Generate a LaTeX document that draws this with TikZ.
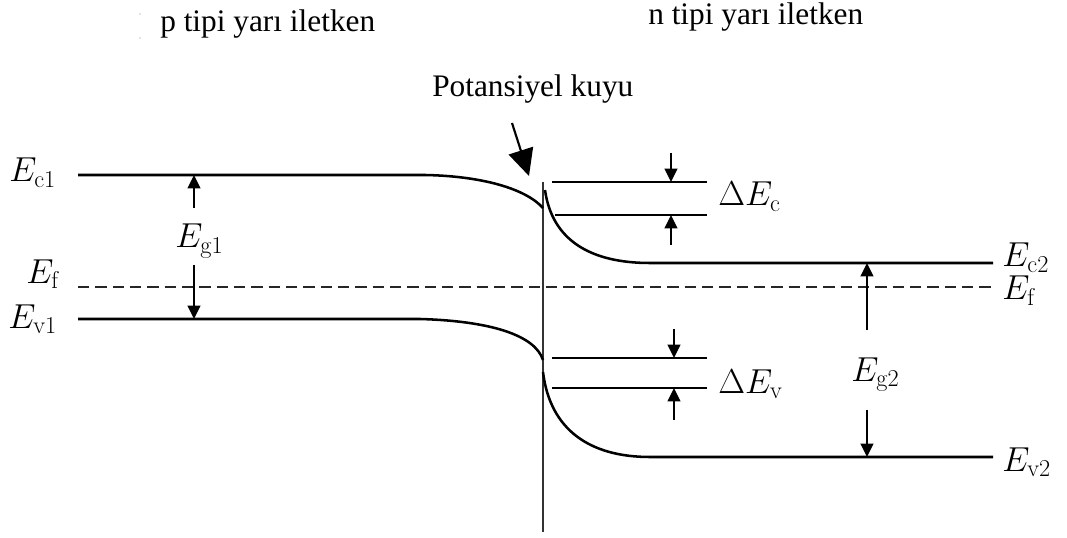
\RequirePackage{fix-cm}
\documentclass[tikz,border=0pt]{standalone}
\usepackage[no-math]{fontspec}
\setmainfont{Liberation Serif}
\usetikzlibrary{arrows.meta}
\begin{document}
\begin{tikzpicture}[x=0.75pt,y=-0.75pt,
  band/.style={line width=1.9pt},
  fermi/.style={line width=1.8pt,black!85,dash pattern=on 8.5pt off 4.5pt},
  gaparrow/.style={line width=1.5pt,-{Triangle[length=10pt,width=9.5pt]}},
  bigarrow/.style={line width=1.6pt,-{Triangle[length=20pt,width=19pt]}},
  junction/.style={line width=2pt,black!80},
  lbl/.style={anchor=base west,inner sep=0pt,font=\fontsize{26}{30}\selectfont},
  ttl/.style={anchor=base west,inner sep=0pt,font=\fontsize{23.5}{28}\selectfont}]
\useasboundingbox (0,0) rectangle (1067,538);

% titles
\node[ttl] (ptitle) at (160,32) {p tipi yarı iletken};
\node[ttl] (ntitle) at (648,25) {n tipi yarı iletken};
\node[ttl] (kuyu) at (432,97) {Potansiyel kuyu};
\fill[gray!45] (140,14) circle (0.9);
\fill[gray!45] (140,38) circle (0.9);

% coordinates
\coordinate (ec1a) at (78,175);
\coordinate (ec1b) at (425,175);
\coordinate (ec1c) at (543,208);
\coordinate (ec2a) at (545,190);
\coordinate (ec2b) at (650,263);
\coordinate (ec2c) at (993,263);
\coordinate (ev1a) at (78,319);
\coordinate (ev1b) at (420,319);
\coordinate (ev1c) at (543,360);
\coordinate (ev2a) at (543,372);
\coordinate (ev2b) at (650,457);
\coordinate (ev2c) at (993,457);
\coordinate (efa) at (78,287);
\coordinate (efb) at (993,287);
\coordinate (jtop) at (543,182);
\coordinate (jbot) at (543,532);

% junction
\draw[junction] (jtop) -- (jbot);

% bands
\draw[band] (ec1a) -- (ec1b) .. controls (480,176) and (525,188) .. (ec1c);
\draw[band] (ec2a) .. controls (552,240) and (590,263) .. (ec2b) -- (ec2c);
\draw[band] (ev1a) -- (ev1b) .. controls (490,321) and (535,335) .. (ev1c);
\draw[band] (ev2a) .. controls (550,430) and (590,457) .. (ev2b) -- (ev2c);
\draw[fermi] (efa) -- (efb);

% offsets
\coordinate (dc1a) at (552,182); \coordinate (dc1b) at (707,182);
\coordinate (dc2a) at (555,215); \coordinate (dc2b) at (707,215);
\coordinate (dv1a) at (552,358); \coordinate (dv1b) at (707,358);
\coordinate (dv2a) at (552,388); \coordinate (dv2b) at (707,388);
\draw[band] (dc1a) -- (dc1b);
\draw[band] (dc2a) -- (dc2b);
\draw[band] (dv1a) -- (dv1b);
\draw[band] (dv2a) -- (dv2b);

% arrows
\coordinate (a1s) at (671,153); \coordinate (a1e) at (671,182);
\coordinate (a2s) at (671,245); \coordinate (a2e) at (671,215);
\coordinate (a3s) at (674,329); \coordinate (a3e) at (674,358);
\coordinate (a4s) at (674,420); \coordinate (a4e) at (674,388);
\coordinate (g1s) at (194,208); \coordinate (g1e) at (194,175);
\coordinate (g2s) at (194,265); \coordinate (g2e) at (194,319);
\coordinate (g3s) at (867,330); \coordinate (g3e) at (867,263);
\coordinate (g4s) at (867,410); \coordinate (g4e) at (867,457);
\draw[gaparrow] (a1s) -- (a1e);
\draw[gaparrow] (a2s) -- (a2e);
\draw[gaparrow] (a3s) -- (a3e);
\draw[gaparrow] (a4s) -- (a4e);
\draw[gaparrow] (g1s) -- (g1e);
\draw[gaparrow] (g2s) -- (g2e);
\draw[gaparrow] (g3s) -- (g3e);
\draw[gaparrow] (g4s) -- (g4e);
\coordinate (ks) at (512,123); \coordinate (ke) at (529,176);
\draw[bigarrow] (ks) -- (ke);

% labels
\node[lbl] (Ec1) at (9,182) {$E_{\mathrm{c1}}$};
\node[lbl] (Ef1) at (26,283) {$E_{\mathrm{f}}$};
\node[lbl] (Ev1) at (8,328) {$E_{\mathrm{v1}}$};
\node[lbl] (Eg1) at (175,248) {$E_{\mathrm{g1}}$};
\node[lbl] (Ec2) at (1002,267) {$E_{\mathrm{c2}}$};
\node[lbl] (Ef2) at (1002,300) {$E_{\mathrm{f}}$};
\node[lbl] (Eg2) at (851,381) {$E_{\mathrm{g2}}$};
\node[lbl] (Ev2) at (1002,471) {$E_{\mathrm{v2}}$};
\node[lbl] (dEc) at (718,206) {$\Delta E_{\mathrm{c}}$};
\node[lbl] (dEv) at (718,393) {$\Delta E_{\mathrm{v}}$};
\end{tikzpicture}
\end{document}
